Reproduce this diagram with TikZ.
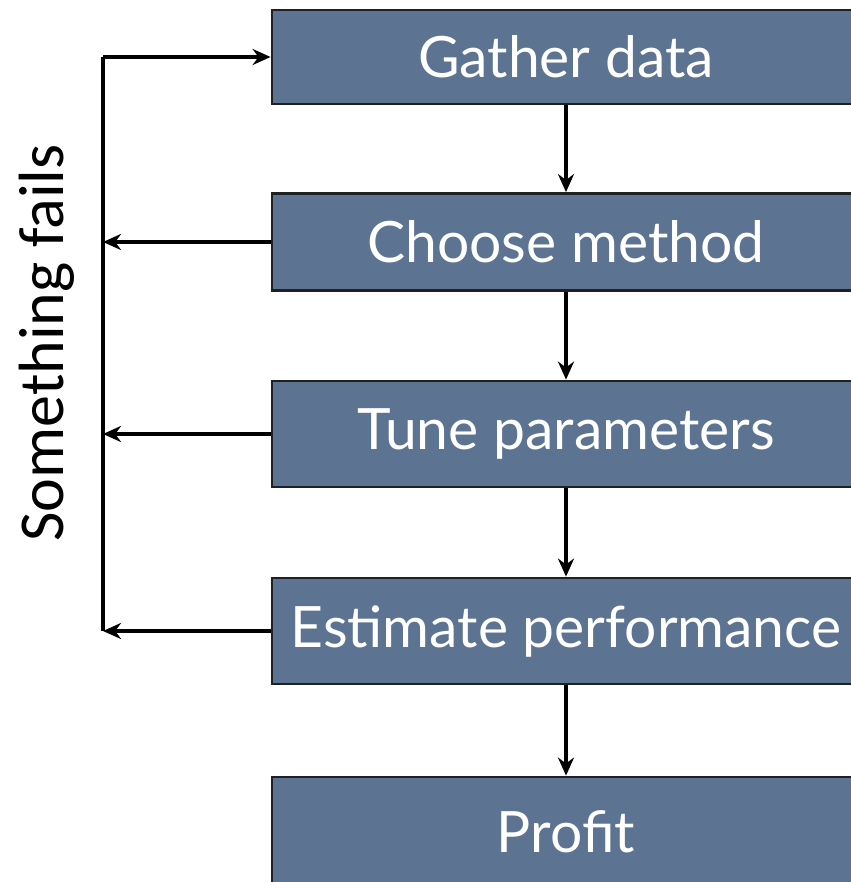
\documentclass[tikz,border=0pt]{standalone}
\usepackage{fontspec}
\usetikzlibrary{arrows.meta}
\newfontfamily\boxfont{Lato}
\newfontfamily\sidefont{Carlito}
\definecolor{slate}{RGB}{92,115,146}
\definecolor{edgedark}{RGB}{30,32,36}
\begin{document}
\begin{tikzpicture}[x=1pt,y=-1pt,
  stepbox/.style={draw=edgedark, line width=2.8pt, fill=slate, text=white,
    minimum width=588pt, inner sep=0pt, font=\boxfont\fontsize{57}{57}\selectfont},
  flow/.style={line width=3.3pt, -{Stealth[length=18pt,width=16pt]}},
  plain/.style={line width=3.3pt}]
\useasboundingbox (0,0) rectangle (850,882);
\node[stepbox, minimum height=94pt]  (g) at (566,57)  {Gather data};
\node[stepbox, minimum height=97pt]  (c) at (566,242) {Choose method};
\node[stepbox, minimum height=106pt] (t) at (566,434) {Tune parameters};
\node[stepbox, minimum height=106pt] (e) at (566,631) {Estimate performance};
\node[stepbox, minimum height=110pt] (p) at (566,832) {Profit};
% main flow downwards
\draw[flow] (g.south) -- (c.north);
\draw[flow] (c.south) -- (t.north);
\draw[flow] (t.south) -- (e.north);
\draw[flow] (e.south) -- (p.north);
% feedback loop on the left
\coordinate (top) at (103,57);
\coordinate (loopc) at (103,242);
\coordinate (loopt) at (103,434);
\coordinate (loope) at (103,631);
\draw[plain] (loope) -- (top);
\draw[flow] (top) -- (g.west);
\draw[flow] (c.west) -- (loopc);
\draw[flow] (t.west) -- (loopt);
\draw[flow] (e.west) -- (loope);
\node[rotate=90, font=\sidefont\fontsize{64}{64}\selectfont, anchor=base] (sf) at (63,343) {Something fails};
\end{tikzpicture}
\end{document}
